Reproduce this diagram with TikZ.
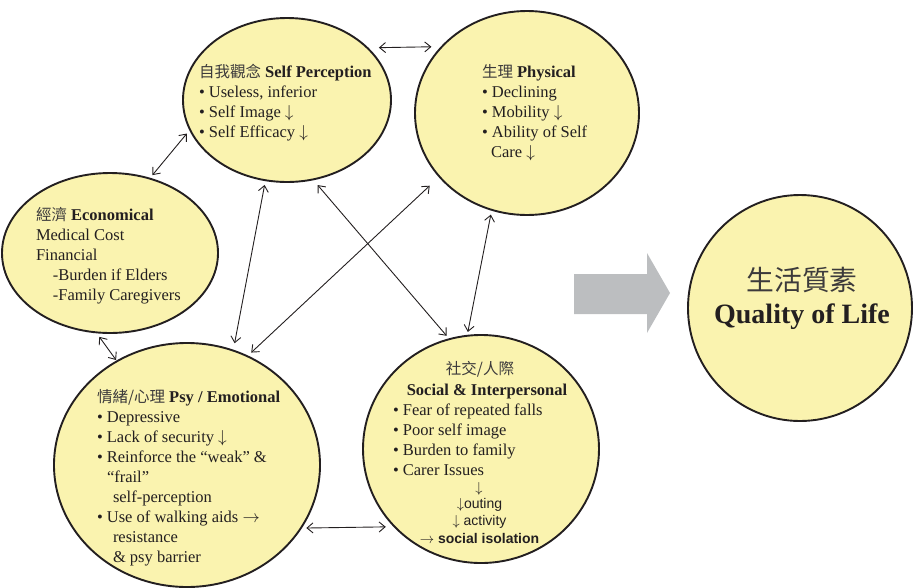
\documentclass[tikz,border=0pt]{standalone}
\usepackage{fontspec}
\setmainfont{Liberation Serif}
\setsansfont{Liberation Sans}
\newfontfamily\cjk[Scale=0.94]{Noto Sans CJK TC}
\usetikzlibrary{arrows.meta,shapes.geometric}
\definecolor{ink}{HTML}{231F20}
\definecolor{cjkink}{HTML}{3C3A3B}
\definecolor{bubble}{HTML}{FAF3AF}
\definecolor{blockgray}{HTML}{BCBEC0}
\newcommand{\zh}[1]{{\color{cjkink}\cjk #1}}
\newcommand{\dn}{\ensuremath{\downarrow}}
\newcommand{\rt}{\ensuremath{\rightarrow}}

\begin{document}
\begin{tikzpicture}[x=1pt,y=-1pt,
  bub/.style={ellipse, draw=ink, line width=1.9pt, fill=bubble, inner sep=0pt, outer sep=0pt},
  txt/.style={inner sep=0pt, outer sep=0pt, text=ink, align=left, font=\fontsize{16.5}{20}\selectfont},
  rel/.style={draw=ink, line width=0.9pt, {Straight Barb[length=6pt,width=10pt]}-{Straight Barb[length=6pt,width=10pt]}},
]
\useasboundingbox (0,0) rectangle (913,587);

% factor bubbles
\node[bub, minimum width=208pt, minimum height=164pt] (sp) at (287,100) {};
\node[bub, minimum width=224pt, minimum height=204pt] (ph) at (527,113) {};
\node[bub, minimum width=216pt, minimum height=160pt] (ec) at (110,253) {};
\node[bub, minimum width=266pt, minimum height=244pt] (ps) at (187,465) {};
\node[bub, minimum width=236pt, minimum height=228pt] (so) at (481,449) {};
\node[bub, minimum width=224pt, minimum height=226pt] (ql) at (800,308) {};

% two-way links between the factors
\draw[rel, shorten <=11.6pt, shorten >=10.6pt] (sp.33.7) -- (ph.142.3);
\draw[rel, shorten <=5.1pt, shorten >=4.5pt] (sp.197.3) -- (ec.62.3);
\draw[rel, shorten <=4.8pt, shorten >=7.5pt] (sp.255.3) -- (ps.68.3);
\draw[rel, shorten <=7.4pt, shorten >=4.4pt] (sp.288.3) -- (so.106.4);
\draw[rel, shorten <=13.3pt, shorten >=5.4pt] (ph.216.3) -- (ps.61.6);
\draw[rel, shorten <=4.9pt, shorten >=3.9pt] (ph.250.7) -- (so.97.0);
\draw[rel, shorten <=5.6pt, shorten >=1.6pt] (ec.260.6) -- (ps.124.1);
\draw[rel, shorten <=5.5pt, shorten >=8.9pt] (ps.331.6) -- (so.222.2);

% block arrow towards quality of life
\fill[blockgray] (574,274) -- (647,274) -- (647,253) -- (670,293) -- (647,333)
  -- (647,314) -- (574,314) -- cycle;

% texts
\node[txt, anchor=north west] (spt) at (199,63)
  {\strut\zh{自我觀念} \textbf{Self Perception}\\• Useless, inferior\\• Self Image \dn\\• Self Efficacy \dn};
\node[txt, anchor=north west] (pht) at (482,63)
  {\strut\zh{生理} \textbf{Physical}\\• Declining\\• Mobility \dn\\• Ability of Self\\\hspace*{9pt}Care \dn};
\node[txt, anchor=north west] (ect) at (36,206)
  {\strut\zh{經濟} \textbf{Economical}\\Medical Cost\\Financial\\\hspace*{17pt}-Burden if Elders\\\hspace*{17pt}-Family Caregivers};
\node[txt, anchor=north west] (pst) at (97,388)
  {\strut\zh{情緒/心理} \textbf{Psy / Emotional}\\• Depressive\\• Lack of security \dn\\• Reinforce the “weak” \&\\\hspace*{10pt}“frail”\\\hspace*{16pt}self-perception\\• Use of walking aids \rt\\\hspace*{16pt}resistance\\\hspace*{16pt}\& psy barrier};
\node[txt, anchor=base] (soa) at (480,374) {\zh{社交/人際}};
\node[txt, anchor=base] (sob) at (487,395) {\textbf{Social \& Interpersonal}};
\node[txt, anchor=north west] (soc) at (393,401)
  {\strut• Fear of repeated falls\\• Poor self image\\• Burden to family\\• Carer Issues};
\node[txt, anchor=base, font=\fontsize{14.5}{16}\selectfont] (sod) at (479,492.5) {\dn};
\node[txt, anchor=north, align=center, font=\sffamily\fontsize{14}{17.5}\selectfont] (soe) at (479.5,495.75)
  {\strut\dn outing\\\dn\ activity\\\rt\ \textbf{social isolation}};
\node[inner sep=0pt, anchor=base, font=\fontsize{29.5}{30}\selectfont] (qla) at (802,290) {\zh{生活質素}};
\node[inner sep=0pt, anchor=base, text=ink, font=\fontsize{28}{30}\selectfont\bfseries] (qlb) at (802,323) {Quality of Life};
\end{tikzpicture}
\end{document}
